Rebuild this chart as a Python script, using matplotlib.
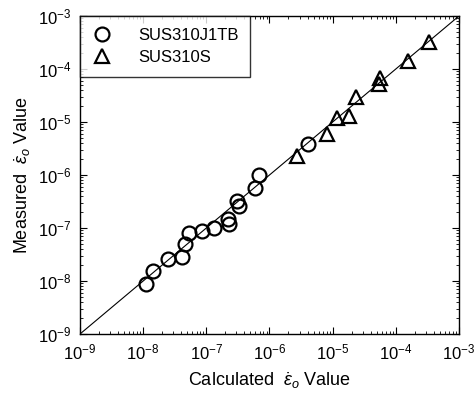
import matplotlib
matplotlib.use("Agg")
import matplotlib.pyplot as plt
import numpy as np

plt.rcParams['font.family'] = ['Liberation Sans', 'DejaVu Sans']
plt.rcParams['mathtext.fontset'] = 'custom'
plt.rcParams['mathtext.rm'] = 'Liberation Sans'
plt.rcParams['mathtext.it'] = 'Liberation Sans:italic'

# SUS310J1TB (circles)
j1tb_calc = [1.1e-8, 1.45e-8, 2.5e-8, 4.1e-8, 4.6e-8, 5.3e-8, 8.5e-8, 1.3e-7,
             2.3e-7, 2.2e-7, 3.3e-7, 3.1e-7, 5.9e-7, 6.9e-7, 4.1e-6]
j1tb_meas = [8.7e-9, 1.55e-8, 2.6e-8, 2.8e-8, 4.9e-8, 7.9e-8, 8.9e-8, 1.0e-7,
             1.17e-7, 1.5e-7, 2.6e-7, 3.3e-7, 5.6e-7, 1.0e-6, 3.85e-6]
# SUS310S (triangles)
s_calc = [2.75e-6, 8.2e-6, 1.18e-5, 1.8e-5, 2.35e-5, 5.4e-5, 5.6e-5, 1.58e-4, 3.4e-4]
s_meas = [2.3e-6, 5.9e-6, 1.2e-5, 1.3e-5, 2.9e-5, 5.2e-5, 6.9e-5, 1.41e-4, 3.3e-4]

line_range = [1e-9, 1e-3]

fig = plt.figure(figsize=(4.77, 3.99), dpi=100)
ax = fig.add_axes([0.1677, 0.1629, 0.7945, 0.797])

ax.plot(line_range, line_range, color='black', lw=0.8, zorder=1)
ax.plot(j1tb_calc, j1tb_meas, linestyle='none', marker='o', markersize=10,
        markerfacecolor='none', markeredgecolor='black', markeredgewidth=1.6,
        label='SUS310J1TB', zorder=2)
ax.plot(s_calc, s_meas, linestyle='none', marker='^', markersize=9.5,
        markerfacecolor='none', markeredgecolor='black', markeredgewidth=1.6,
        label='SUS310S', zorder=2)

ax.set_xscale('log')
ax.set_yscale('log')
ax.set_xlim(1e-9, 1e-3)
ax.set_ylim(1e-9, 1e-3)
ax.set_xticks([10.0**k for k in range(-9, -2)])
ax.set_yticks([10.0**k for k in range(-9, -2)])

ax.tick_params(which='both', direction='in', top=True, right=True, labelsize=12, pad=6)
ax.tick_params(which='major', length=5, width=0.8)
ax.tick_params(which='minor', length=2.5, width=0.6)
for s in ax.spines.values():
    s.set_linewidth(1.0)

ax.set_xlabel(r'Calculated  $\dot{\varepsilon}_{o}$ Value', fontsize=13, labelpad=6)
ax.set_ylabel(r'Measured  $\dot{\varepsilon}_{o}$ Value', fontsize=13, labelpad=4)

leg = ax.legend(loc='upper left', fontsize=12, frameon=True, fancybox=False,
                edgecolor='black', borderaxespad=0, handletextpad=1.6,
                borderpad=0.7, labelspacing=0.45, handlelength=1.2)
leg.get_frame().set_linewidth(1.0)

fig.savefig('out.png', dpi=100)
